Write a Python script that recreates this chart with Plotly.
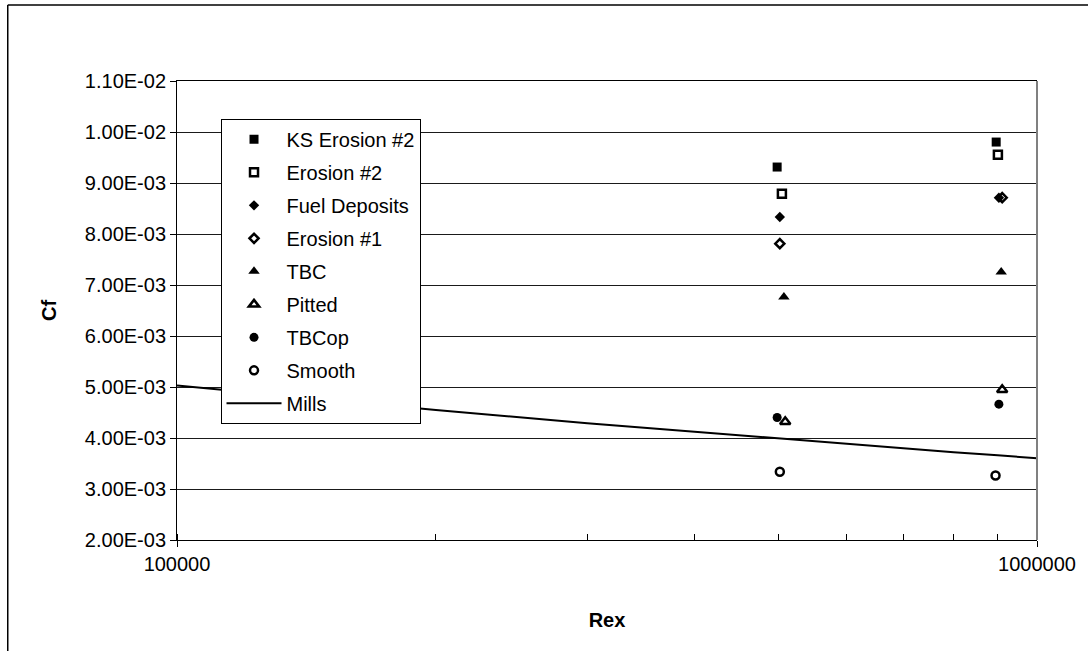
import plotly.graph_objects as go

# ---- data ----
series_names = ["KS Erosion #2", "Erosion #2", "Fuel Deposits", "Erosion #1",
                "TBC", "Pitted", "TBCop", "Smooth"]
ks_erosion2_x = [498700, 896500]
ks_erosion2_y = [0.009313, 0.009803]
erosion2_x = [505100, 900600]
erosion2_y = [0.008791, 0.009556]
fuel_x = [502300, 903000]
fuel_y = [0.008332, 0.008712]
erosion1_x = [502300, 911000]
erosion1_y = [0.007810, 0.008712]
tbc_x = [507800, 908600]
tbc_y = [0.006763, 0.007253]
pitted_x = [509600, 911000]
pitted_y = [0.004319, 0.004947]
tbcop_x = [498700, 903000]
tbcop_y = [0.004403, 0.004664]
smooth_x = [502300, 894900]
smooth_y = [0.003338, 0.003265]

mills_x = [100000, 200000, 300000, 400000, 500000, 600000, 700000, 800000, 900000, 1000000]
mills_y = [0.00503, 0.00455, 0.00429, 0.00412, 0.00400, 0.00389, 0.00380, 0.00372, 0.00366, 0.003605]

y_tickvals = [0.002, 0.003, 0.004, 0.005, 0.006, 0.007, 0.008, 0.009, 0.010, 0.011]
y_ticktext = ["2.00E-03", "3.00E-03", "4.00E-03", "5.00E-03", "6.00E-03",
              "7.00E-03", "8.00E-03", "9.00E-03", "1.00E-02", "1.10E-02"]
x_tickvals = [100000, 200000, 300000, 400000, 500000, 600000, 700000, 800000, 900000, 1000000]
x_ticktext = ["100000", "", "", "", "", "", "", "", "", "1000000"]

FONT = "Liberation Sans, Arial, sans-serif"

series = [
    ("KS Erosion #2", ks_erosion2_x, ks_erosion2_y, "square", 9),
    ("Erosion #2", erosion2_x, erosion2_y, "square-open", 8),
    ("Fuel Deposits", fuel_x, fuel_y, "diamond", 8),
    ("Erosion #1", erosion1_x, erosion1_y, "diamond-open", 7),
    ("TBC", tbc_x, tbc_y, "triangle-up", 10),
    ("Pitted", pitted_x, pitted_y, "triangle-up-open", 9),
    ("TBCop", tbcop_x, tbcop_y, "circle", 9),
    ("Smooth", smooth_x, smooth_y, "circle-open", 8),
]

fig = go.Figure()
for i, (name, xs, ys, sym, sz) in enumerate(series):
    fig.add_trace(go.Scatter(
        x=xs, y=ys, mode="markers", name=name, legendgroup=f"g{i}",
        marker=dict(symbol=sym, size=sz, color="black",
                    line=dict(color="black", width=2.5 if "open" in sym else 0)),
    ))
fig.add_trace(go.Scatter(
    x=mills_x, y=mills_y, mode="lines", name="Mills", legendgroup="g8",
    line=dict(color="black", width=2),
))

fig.update_layout(
    width=1088, height=651,
    margin=dict(l=177, r=48, t=81, b=111),
    paper_bgcolor="white", plot_bgcolor="white",
    font=dict(family=FONT, size=20, color="black"),
    showlegend=True,
    legend=dict(x=0.0506, y=0.9175, xanchor="left", yanchor="top",
                bgcolor="white", bordercolor="black", borderwidth=1,
                font=dict(family=FONT, size=20, color="black"),
                tracegroupgap=4, itemwidth=55, traceorder="grouped"),
    xaxis=dict(type="log", range=[5, 6], tickmode="array",
               tickvals=x_tickvals, ticktext=x_ticktext,
               ticks="outside", ticklen=6, tickcolor="black", tickwidth=1,
               minor=dict(tickmode="array", tickvals=x_tickvals, ticks="inside",
                          ticklen=6, tickcolor="black", tickwidth=1, showgrid=False),
               showline=True, linecolor="black", linewidth=1, mirror=True,
               showgrid=False, zeroline=False,
               title=dict(text="<b>Rex</b>", standoff=38,
                          font=dict(family=FONT, size=20, color="black"))),
    yaxis=dict(range=[0.002, 0.011], tickmode="array",
               tickvals=y_tickvals, ticktext=y_ticktext,
               ticks="outside", ticklen=6, tickcolor="black", tickwidth=1,
               showline=True, linecolor="black", linewidth=1,
               showgrid=True, gridcolor="#1a1a1a", gridwidth=1, zeroline=False,
               title=dict(text="<b>Cf</b>", standoff=22,
                          font=dict(family=FONT, size=20, color="black"))),
    shapes=[
        # right plot border (gray)
        dict(type="line", xref="paper", yref="paper", x0=1, x1=1, y0=0, y1=1,
             line=dict(color="#808080", width=2)),
        # outer chart frame (left and top edges visible)
        dict(type="line", xref="paper", yref="paper", x0=-0.1968, x1=-0.1968, y0=-0.3, y1=1.1656,
             line=dict(color="black", width=1.5)),
        dict(type="line", xref="paper", yref="paper", x0=-0.1968, x1=1.1, y0=1.1656, y1=1.1656,
             line=dict(color="black", width=1.5)),
    ],
)

fig.write_html("out.html")
